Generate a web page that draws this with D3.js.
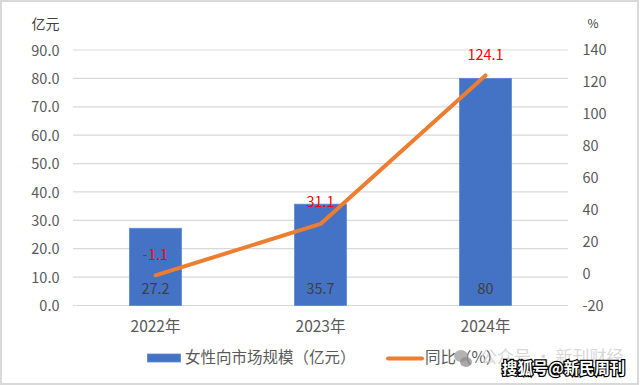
<!DOCTYPE html>
<html><head><meta charset="utf-8">
<script src="https://cdn.jsdelivr.net/npm/d3@7"></script>
<style>html,body{margin:0;padding:0;background:#fff}svg{display:block}text{font-family:"Noto Sans CJK SC","Open Sans",sans-serif}</style>
</head><body><svg id="c" width="640" height="385"></svg>
<script>
const categories=["2022年","2023年","2024年"];
const marketSize=[27.2,35.7,80];
const yoy=[-1.1,31.1,124.1];
const leftTicks=[0,10,20,30,40,50,60,70,80,90];
const rightTicks=[-20,0,20,40,60,80,100,120,140];
const barName="女性向市场规模（亿元）";
const lineName="同比（%）";

const svg=d3.select("#c");
const plotTop=50,plotBottom=305.5,plotLeft=73,plotRight=568;
const x=d3.scaleBand().domain(categories).range([plotLeft,plotRight]).paddingInner(0).paddingOuter(0);
const yL=d3.scaleLinear().domain([0,90]).range([plotBottom,plotTop]);
const yR=d3.scaleLinear().domain([-20,140]).range([plotBottom,plotTop]);
const cx=c=>x(c)+x.bandwidth()/2;
const barW=52;

svg.append("rect").attr("x",1).attr("y",1).attr("width",637).attr("height",383)
  .attr("fill","#fff").attr("stroke","#d9d9d9").attr("stroke-width",2);

// gridlines
svg.append("g").selectAll("line").data(leftTicks).join("line")
  .attr("x1",plotLeft).attr("x2",plotRight).attr("y1",d=>yL(d)).attr("y2",d=>yL(d))
  .attr("stroke","#d9d9d9").attr("stroke-width",1.2);

// left axis labels
svg.append("g").selectAll("text").data(leftTicks).join("text")
  .attr("x",59.5).attr("y",d=>yL(d)+0.5).attr("dy","0.36em").attr("text-anchor","end")
  .attr("font-size",14.5).attr("fill","#595959").text(d=>d.toFixed(1));

// right axis labels
svg.append("g").selectAll("text").data(rightTicks).join("text")
  .attr("x",582.5).attr("y",d=>yR(d)).attr("dy","0.36em").attr("text-anchor","start")
  .attr("font-size",14.5).attr("fill","#595959").text(d=>d);

svg.append("text").attr("x",59.5).attr("y",24).attr("dy","0.36em").attr("text-anchor","end")
  .attr("font-size",14).attr("fill","#404040").text("亿元");
svg.append("text").attr("x",593).attr("y",24).attr("dy","0.36em").attr("text-anchor","middle")
  .attr("font-size",12).attr("fill","#404040").text("%");

// bars
svg.append("g").selectAll("rect").data(categories).join("rect")
  .attr("x",c=>cx(c)-barW/2).attr("width",barW)
  .attr("y",(c,i)=>yL(marketSize[i])).attr("height",(c,i)=>plotBottom-yL(marketSize[i]))
  .attr("fill","#4472c4").attr("stroke","#5b8ad6").attr("stroke-width",0.8);

// bar labels
svg.append("g").selectAll("text").data(categories).join("text")
  .attr("x",cx).attr("y",288.5).attr("dy","0.36em").attr("text-anchor","middle")
  .attr("font-size",14.5).attr("fill","#404040").text((c,i)=>marketSize[i]);

// line
const line=d3.line().x(d=>cx(d.c)).y(d=>yR(d.v));
svg.append("path").datum(categories.map((c,i)=>({c,v:yoy[i]})))
  .attr("d",line).attr("fill","none").attr("stroke","#ed7d31").attr("stroke-width",4)
  .attr("stroke-linecap","round").attr("stroke-linejoin","round");

// line labels
const lineLabelOffset=[20.5,22,21];
svg.append("g").selectAll("text").data(categories).join("text")
  .attr("x",cx).attr("y",(c,i)=>yR(yoy[i])-lineLabelOffset[i]).attr("dy","0.36em").attr("text-anchor","middle")
  .attr("font-size",14.5).attr("fill","#ff0000").text((c,i)=>yoy[i]);

// category labels
svg.append("g").selectAll("text").data(categories).join("text")
  .attr("x",cx).attr("y",326).attr("dy","0.36em").attr("text-anchor","middle")
  .attr("font-size",15.5).attr("fill","#595959").text(c=>c);

// legend
const lg=svg.append("g");
lg.append("rect").attr("x",147.5).attr("y",354).attr("width",33).attr("height",8)
  .attr("fill","#4472c4").attr("stroke","#5b8ad6").attr("stroke-width",0.8);
lg.append("text").attr("x",185).attr("y",357.5).attr("dy","0.36em")
  .attr("font-size",15.5).attr("fill","#595959").text(barName);
lg.append("line").attr("x1",388).attr("x2",422).attr("y1",358.5).attr("y2",358.5)
  .attr("stroke","#ed7d31").attr("stroke-width",4).attr("stroke-linecap","round");
lg.append("text").attr("x",425).attr("y",357.5).attr("dy","0.36em")
  .attr("font-size",15.5).attr("fill","#595959").text(lineName);

// watermarks
const wm=svg.append("g");
wm.append("ellipse").attr("cx",461).attr("cy",356).attr("rx",7).attr("ry",6).attr("fill","#9a9a9a").attr("opacity",0.75);
wm.append("ellipse").attr("cx",466).attr("cy",362).attr("rx",6).attr("ry",5).attr("fill","#8c8c8c").attr("opacity",0.75);
wm.append("text").attr("x",480).attr("y",357).attr("dy","0.36em").attr("font-size",17)
  .attr("fill","#cfcfcf").attr("opacity",0.8).text("公众号 · 新刊财经");
wm.append("text").attr("x",502).attr("y",368).attr("dy","0.36em").attr("font-size",15.4).attr("font-weight",700)
  .attr("fill","#fff").attr("stroke","#000").attr("stroke-width",2.5).attr("paint-order","stroke").text("搜狐号@新民周刊");
</script></body></html>
